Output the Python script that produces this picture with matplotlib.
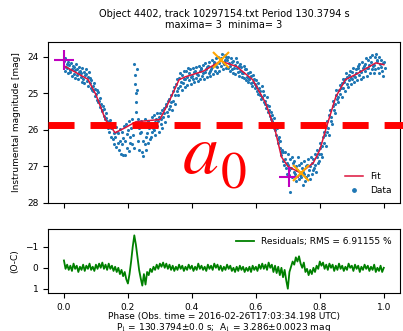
import numpy as np
import matplotlib
matplotlib.use("Agg")
import matplotlib.pyplot as plt

plt.rcParams["mathtext.fontset"] = "stix"

# fitted light curve (knots)
fit_phase = [0.0, 0.075, 0.10, 0.13, 0.16, 0.19, 0.225, 0.30, 0.33, 0.36, 0.38, 0.435,
             0.49, 0.54, 0.59, 0.63, 0.66, 0.68, 0.70, 0.74, 0.78, 0.80, 0.82, 0.85,
             0.88, 0.92, 0.975, 1.0]
fit_mag = [24.25, 24.62, 25.04, 25.73, 26.08, 25.95, 25.78, 25.72, 25.2, 24.63, 24.55, 24.4,
           24.12, 24.27, 24.63, 25.26, 26.0, 26.74, 27.0, 27.18, 26.9, 26.55, 25.95, 25.1,
           24.63, 24.45, 24.17, 24.22]

# observed magnitudes, grouped per 0.01 phase bin
data_bins = [
    [24.12, 24.38, 24.05, 24.27, 24.2], [24.3, 24.15, 24.44, 24.22, 24.36],
    [24.41, 24.18, 24.33, 24.52, 24.26], [24.28, 24.47, 24.36, 24.58, 24.2],
    [24.5, 24.33, 24.62, 24.41, 24.27], [24.38, 24.55, 24.46, 24.68, 24.32],
    [24.6, 24.42, 24.72, 24.5, 24.35], [24.48, 24.66, 24.55, 24.8, 24.43],
    [24.71, 24.58, 24.85, 24.64, 24.92], [24.8, 24.95, 24.72, 25.08, 24.88],
    [25.02, 24.9, 25.18, 24.97, 25.25], [25.2, 25.38, 25.12, 25.3, 25.45],
    [25.48, 25.35, 25.62, 25.42, 25.7], [25.68, 25.55, 25.86, 25.75, 25.95],
    [25.8, 26.05, 25.72, 25.95, 26.2], [25.95, 26.25, 25.85, 26.4, 26.1],
    [26.2, 25.92, 26.48, 26.05, 26.35], [26.1, 26.55, 26.3, 25.98, 26.65],
    [26.4, 26.05, 26.68, 26.22, 25.9], [26.3, 26.7, 25.85, 26.5, 26.12],
    [26.0, 26.58, 25.75, 26.35, 26.2], [25.95, 26.4, 25.7, 26.15, 26.5],
    [24.2, 24.5, 24.75, 25.0, 25.25, 25.5, 24.35, 24.9],
    [25.7, 26.3, 25.95, 26.55, 26.1], [26.05, 25.75, 26.62, 26.3, 26.72],
    [25.9, 26.4, 25.7, 26.2, 26.55], [26.1, 25.75, 26.35, 25.95, 26.25],
    [25.85, 26.2, 25.65, 26.05, 25.95], [25.6, 26.0, 25.8, 26.15, 25.7],
    [25.9, 25.55, 25.75, 26.05, 25.65], [25.55, 25.85, 25.7, 25.45, 25.95],
    [25.65, 25.4, 25.55, 25.8, 25.35], [25.3, 25.5, 25.2, 25.62, 25.42],
    [25.15, 25.35, 25.05, 25.25, 25.45], [24.95, 25.2, 24.82, 25.05, 25.3],
    [24.75, 24.95, 24.62, 24.85, 25.05], [24.58, 24.8, 24.45, 24.7, 24.9],
    [24.5, 24.72, 24.38, 24.6, 24.82], [24.62, 24.4, 24.55, 24.78, 24.32],
    [24.45, 24.65, 24.35, 24.56, 24.75], [24.52, 24.3, 24.62, 24.42, 24.7],
    [24.38, 24.58, 24.28, 24.48, 24.66], [24.5, 24.25, 24.62, 24.4, 24.33],
    [24.3, 24.52, 24.22, 24.44, 24.6], [24.42, 24.18, 24.35, 24.55, 24.28],
    [24.25, 24.45, 24.15, 24.38, 24.52], [24.35, 24.1, 24.28, 24.48, 24.2],
    [24.15, 24.38, 24.05, 24.25, 24.45], [24.28, 24.0, 24.18, 24.4, 24.1],
    [24.05, 24.25, 23.92, 24.15, 24.35], [24.2, 23.95, 24.1, 24.32, 24.02],
    [24.08, 24.3, 24.0, 24.18, 24.4], [24.25, 24.05, 24.35, 24.15, 24.45],
    [24.12, 24.32, 24.22, 24.48, 24.05], [24.3, 24.15, 24.42, 24.25, 24.52],
    [24.2, 24.38, 24.28, 24.55, 24.45], [24.45, 24.25, 24.58, 24.35, 24.65],
    [24.35, 24.55, 24.45, 24.7, 24.6], [24.6, 24.42, 24.72, 24.52, 24.8],
    [24.5, 24.7, 24.62, 24.85, 24.75], [24.8, 24.65, 24.95, 24.72, 25.02],
    [24.85, 25.05, 24.95, 25.15, 24.8], [25.1, 24.95, 25.25, 25.05, 25.3],
    [25.2, 25.4, 25.1, 25.32, 25.5], [25.45, 25.35, 25.62, 25.52, 25.7],
    [25.75, 25.6, 25.85, 25.68, 25.95], [26.0, 25.85, 26.15, 25.95, 26.25],
    [26.35, 26.2, 26.5, 26.3, 26.6], [26.7, 26.55, 26.85, 26.6, 26.95],
    [26.8, 26.6, 27.05, 26.9, 27.2], [26.95, 26.65, 27.25, 27.1, 27.7, 26.8],
    [27.05, 26.75, 27.3, 26.9, 27.15], [26.85, 27.2, 27.0, 27.4, 27.1],
    [27.1, 26.75, 27.35, 26.95, 27.25], [26.9, 27.3, 27.05, 27.5, 27.15],
    [27.2, 26.85, 27.4, 27.0, 27.3], [26.95, 27.25, 26.8, 27.1, 27.35],
    [27.0, 26.75, 27.2, 26.9, 27.1], [26.8, 27.05, 26.65, 26.95, 27.15],
    [26.75, 26.55, 26.9, 26.65, 26.85], [26.5, 26.35, 26.65, 26.45, 26.75],
    [26.2, 26.05, 26.35, 26.15, 26.45], [25.9, 25.75, 26.05, 25.95, 26.15],
    [25.6, 25.45, 25.75, 25.65, 25.85], [25.35, 25.2, 25.45, 25.3, 25.55],
    [25.05, 24.92, 25.15, 25.1, 25.25], [24.9, 24.78, 25.02, 24.85, 25.1],
    [24.72, 24.6, 24.85, 24.68, 24.95], [24.6, 24.45, 24.75, 24.55, 24.82],
    [24.5, 24.65, 24.38, 24.58, 24.75], [24.42, 24.6, 24.3, 24.52, 24.7],
    [24.55, 24.35, 24.45, 24.65, 24.25], [24.3, 24.5, 24.2, 24.4, 24.62],
    [24.42, 24.15, 24.32, 24.55, 24.25], [24.2, 24.4, 24.05, 24.3, 24.52],
    [24.3, 24.08, 24.22, 24.45, 24.0], [24.15, 24.35, 23.95, 24.25, 24.45],
    [24.22, 24.02, 24.35, 23.92, 24.12], [24.1, 24.3, 24.0, 24.45, 24.2],
    [24.28, 24.08, 24.4, 24.18, 24.52], [24.15, 24.3],
]

# residuals (O-C), one value every 0.005 in phase
resid = [
    -0.35, 0.05, -0.15, 0.1, -0.1, 0.15, -0.2, 0.05, -0.1, 0.2,
    -0.05, 0.1, -0.15, 0.15, -0.1, 0.05, -0.2, 0.1, -0.05, 0.15,
    -0.15, 0.05, -0.2, 0.0, -0.25, 0.05, -0.15, 0.1, -0.2, 0.05,
    -0.1, 0.15, -0.05, 0.2, 0.0, 0.3, 0.1, 0.4, 0.2, 0.55,
    0.75, 0.3, -0.3, -1.0, -1.55, -1.1, -0.5, 0.1, 0.5, 0.85,
    0.3, 0.8, 0.2, 0.35, 0.05, 0.2, -0.05, 0.1, -0.15, 0.05,
    -0.2, -0.05, -0.25, 0.0, -0.2, 0.05, -0.15, 0.1, -0.1, 0.15,
    -0.05, 0.1, -0.15, 0.05, -0.1, 0.15, -0.05, 0.1, -0.15, 0.05,
    -0.1, 0.15, -0.05, 0.1, -0.2, 0.05, -0.1, 0.1, -0.05, 0.15,
    -0.15, 0.05, -0.1, 0.1, -0.2, 0.0, -0.15, 0.1, -0.1, 0.15,
    -0.05, 0.1, -0.15, 0.05, -0.1, 0.15, 0.0, 0.2, -0.05, 0.15,
    -0.1, 0.1, -0.05, 0.2, 0.0, 0.15, -0.05, 0.2, -0.1, 0.1,
    -0.05, 0.15, -0.15, 0.05, -0.2, 0.05, -0.15, 0.1, -0.25, 0.0,
    -0.15, 0.2, -0.1, 0.25, -0.05, 0.35, 0.0, 0.45, 0.1, 0.6,
    1.0, 0.2, -0.05, -0.3, -0.15, -0.5, -0.3, -0.55, -0.2, 0.0,
    -0.25, 0.2, 0.05, 0.35, 0.1, 0.3, 0.0, 0.2, -0.1, 0.05,
    -0.3, -0.1, -0.25, 0.05, -0.15, 0.1, -0.2, 0.0, -0.15, 0.15,
    -0.1, 0.1, -0.2, 0.05, -0.1, 0.15, -0.05, 0.1, -0.2, 0.0,
    -0.1, 0.15, -0.15, 0.05, -0.1, 0.2, -0.05, 0.1, -0.15, 0.05,
    -0.1, 0.15, -0.05, 0.1, -0.15, 0.2, 0.0, 0.15, -0.1, 0.2,
    0.0,
]

max_phase = [0.0, 0.703]
max_mag = [24.08, 27.3]
min_phase = [0.49, 0.74]
min_mag = [24.08, 27.18]

a0_level = 25.86

# expand binned data into phase / mag pairs
data_phase, data_mag = [], []
for i, row in enumerate(data_bins):
    for j, m in enumerate(row):
        data_phase.append(i * 0.01 + j * 0.01 / len(row))
        data_mag.append(m)
resid_phase = np.linspace(0, 1, len(resid))

fig = plt.figure(figsize=(4.03, 3.31), dpi=100)
ax = fig.add_axes([0.119, 0.387, 0.873, 0.486])
ax2 = fig.add_axes([0.119, 0.115, 0.873, 0.193], sharex=ax)

ax.scatter(data_phase, data_mag, s=1.5, color="#1f77b4", label="Data", zorder=2)
ax.plot(fit_phase, fit_mag, color="crimson", lw=1.1, label="Fit", zorder=3)
ax.plot(max_phase, max_mag, "+", color="m", ms=14, mew=1.5, zorder=4)
ax.plot(min_phase, min_mag, "x", color="orange", ms=12, mew=1.5, zorder=4)
ax.set_ylim(28.0, 23.6)
ax.set_xlim(-0.05, 1.05)
ax.set_yticks([24, 25, 26, 27, 28])
ax.tick_params(labelsize=6.5, labelbottom=False)
ax.set_ylabel("Instrumental magnitude [mag]", fontsize=6.5)
ax.set_title("Object 4402, track 10297154.txt Period 130.3794 s\nmaxima= 3  minima= 3",
             fontsize=7, linespacing=1.1, pad=10)
handles, labels = ax.get_legend_handles_labels()
ax.legend(handles[::-1], labels[::-1], loc="lower right", fontsize=6.5, frameon=False,
          markerscale=2)

# annotation: threshold line a_0
ax.axhline(a0_level, xmin=0, xmax=1.05, color="red", lw=5,
           linestyle=(0, (3.75, 2.3)), clip_on=False, zorder=5)
ax.text(0.37, 27.2, r"$a$", color="red", fontsize=52, zorder=5)
ax.text(0.49, 27.6, "0", color="red", fontsize=37, family="STIXGeneral", zorder=5)

ax2.plot(resid_phase, resid, color="green", lw=1.3,
         label="Residuals; RMS = 6.91155 %")
ax2.set_ylim(1.2, -1.85)
ax2.set_yticks([-1, 0, 1])
ax2.tick_params(labelsize=6.5)
ax2.set_ylabel("(O-C)", fontsize=6.5)
ax2.set_xticks([0.0, 0.2, 0.4, 0.6, 0.8, 1.0])
ax2.set_xlabel("Phase (Obs. time = 2016-02-26T17:03:34.198 UTC)\n"
               "P$_1$ = 130.3794±0.0 s;  A$_1$ = 3.286±0.0023 mag",
               fontsize=6.5, linespacing=1.0, labelpad=0.5)
ax2.legend(loc="upper right", fontsize=6.5, frameon=False)

fig.savefig("out.png", dpi=100)
